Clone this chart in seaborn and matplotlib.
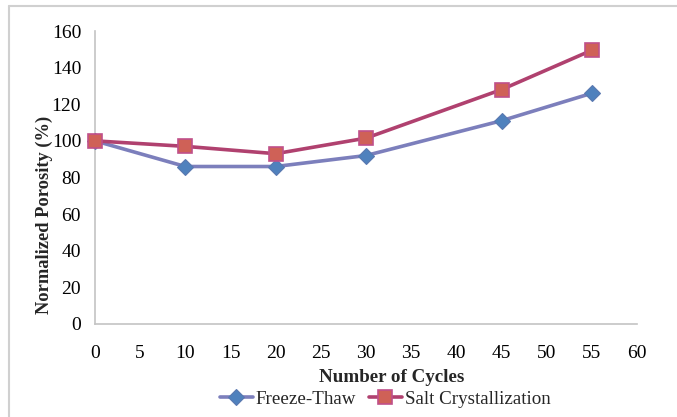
import matplotlib
matplotlib.use("Agg")
import matplotlib.pyplot as plt
from matplotlib.lines import Line2D
import seaborn as sns
import pandas as pd

cycles = [0, 10, 20, 30, 45, 55]
freeze_thaw = [100, 86, 86, 92, 111, 126]
salt_cryst = [100, 97, 93, 101.5, 128, 149.5]
x_ticks = list(range(0, 61, 5))
y_ticks = list(range(0, 161, 20))

sns.set_style("white")
plt.rcParams["font.family"] = ["Liberation Serif", "DejaVu Serif"]

W, H = 677, 417
fig = plt.figure(figsize=(W / 100, H / 100), dpi=100)
ax = fig.add_axes([95 / W, 1 - 324 / H, (637 - 95) / W, (324 - 31) / H])

df = pd.DataFrame({"cycles": cycles, "ft": freeze_thaw, "sc": salt_cryst})

sns.lineplot(data=df, x="cycles", y="ft", ax=ax, color="#7c7fbc", lw=2.6,
             marker="D", markersize=8, markerfacecolor="#4f81bd",
             markeredgecolor="#5a78b0", markeredgewidth=0.8, label="Freeze-Thaw",
             legend=False, clip_on=False, zorder=3)
sns.lineplot(data=df, x="cycles", y="sc", ax=ax, color="#b0416f", lw=2.6,
             marker="s", markersize=9.5, markerfacecolor="#cf6157",
             markeredgecolor="#c0508a", markeredgewidth=1.2,
             label="Salt Crystallization", legend=False, clip_on=False, zorder=4)

ax.set_xlim(0, 60)
ax.set_ylim(0, 160)
ax.set_xticks(x_ticks)
ax.set_yticks(y_ticks)
ax.tick_params(axis="both", labelsize=14, colors="#bdbdbd", labelcolor="black",
               length=5, width=1, direction="out", pad=5)
ax.tick_params(axis="x", pad=10)
for side in ["top", "right"]:
    ax.spines[side].set_visible(False)
for side in ["left", "bottom"]:
    ax.spines[side].set_color("#c4c4c4")
    ax.spines[side].set_linewidth(1.2)

ax.set_xlabel("")
ax.set_ylabel("")
fig.text(392 / W, 1 - 378 / H, "Number of Cycles", ha="center", va="center",
         fontsize=13.7, fontweight="bold")
fig.text(44 / W, 1 - 215 / H, "Normalized Porosity (%)", ha="center", va="center",
         rotation=90, fontsize=13.3, fontweight="bold")

handles, labels = ax.get_legend_handles_labels()
fig.legend(handles, labels, loc="center", bbox_to_anchor=(385 / W, 1 - 399 / H),
           ncol=2, frameon=False, fontsize=13.7, handlelength=1.75,
           handletextpad=0.15, columnspacing=0.65, borderaxespad=0)

# chart frame
border = "#d0d0d0"
fig.add_artist(Line2D([9 / W, 9 / W], [0, 1 - 6 / H], color=border, lw=1.5,
                      transform=fig.transFigure))
fig.add_artist(Line2D([9 / W, 1], [1 - 6 / H, 1 - 6 / H], color=border, lw=1.5,
                      transform=fig.transFigure))

fig.savefig("out.png", dpi=100)
